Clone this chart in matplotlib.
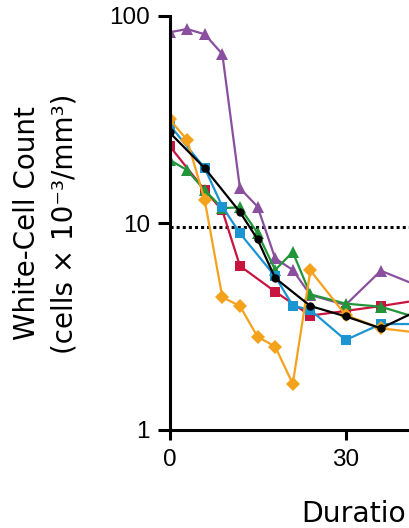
"""
White-cell count over time, one line per patient (log scale).
"""

import matplotlib

matplotlib.use("Agg")

import matplotlib.pyplot as plt
from matplotlib.ticker import FixedLocator, NullLocator

plt.rcParams["font.family"] = ["Liberation Sans", "DejaVu Sans"]

# ---------- Data ----------
purple_x = [0, 3, 6, 9, 12, 15, 18, 21, 24, 30, 36, 42]
purple_y = [83.4, 86.5, 81.6, 65.5, 14.7, 12.0, 6.75, 5.93, 4.49, 4.02, 5.88, 5.02]

red_x = [0, 6, 9, 12, 18, 24, 30, 36, 42]
red_y = [23.6, 14.4, 11.5, 6.20, 4.66, 3.57, 3.76, 3.97, 4.22]

green_x = [0, 3, 6, 9, 12, 15, 18, 21, 24, 30, 36, 42]
green_y = [20.2, 18.0, 14.4, 11.8, 11.9, 8.95, 5.93, 7.24, 4.52, 4.08, 3.94, 3.50]

blue_x = [0, 6, 9, 12, 18, 21, 24, 30, 36, 42]
blue_y = [29.8, 18.4, 12.0, 8.92, 5.52, 3.99, 3.80, 2.72, 3.25, 3.25]

orange_x = [0, 3, 6, 9, 12, 15, 18, 21, 24, 30, 36, 42]
orange_y = [31.7, 25.2, 12.9, 4.38, 3.97, 2.82, 2.53, 1.67, 5.90, 3.59, 3.10, 2.96]

black_x = [0, 6, 12, 15, 18, 24, 30, 36, 42]
black_y = [27.4, 18.4, 11.3, 8.34, 5.42, 3.97, 3.54, 3.10, 3.74]

threshold = 9.6
y_ticks = [1, 10, 100]
x_ticks = [0, 30]

series = [
    (purple_x, purple_y, "#8a4f9e", "^", 8.5),
    (red_x, red_y, "#c8143f", "s", 7.5),
    (green_x, green_y, "#22953a", "^", 8.5),
    (blue_x, blue_y, "#1b95d2", "s", 7.5),
    (orange_x, orange_y, "#f4a11c", "D", 7.5),
    (black_x, black_y, "#000000", "o", 6),
]

# ---------- Figure ----------
W, H = 409, 528
fig = plt.figure(figsize=(W / 100, H / 100), dpi=100)
ax = fig.add_axes([169.5 / W, 1 - 430 / H, (W - 169.5) / W, (430 - 16) / H])

ax.axhline(threshold, color="black", ls=(0, (1, 1)), lw=2.2, zorder=1)

for xs, ys, color, marker, ms in series:
    ax.plot(xs, ys, color=color, lw=1.6, marker=marker, ms=ms,
            markeredgewidth=0, zorder=2)

ax.set_yscale("log")
ax.set_ylim(1, 100)
ax.set_xlim(0, (W - 169.5) / 5.87)
ax.yaxis.set_major_locator(FixedLocator(y_ticks))
ax.yaxis.set_minor_locator(NullLocator())
ax.set_yticklabels([str(t) for t in y_ticks])
ax.set_xticks(x_ticks)
ax.set_xticklabels([str(t) for t in x_ticks])

for side in ("top", "right"):
    ax.spines[side].set_visible(False)
for side in ("left", "bottom"):
    ax.spines[side].set_linewidth(2.2)
    ax.spines[side].set_capstyle("projecting")

ax.tick_params(axis="y", length=8.5, width=2.2, labelsize=17.5, pad=5.5)
ax.tick_params(axis="x", length=7.5, width=2.2, labelsize=17.5, pad=6)

# ---------- Labels ----------
label_font = ["DejaVu Sans"]
fig.text(27 / W, 1 - 223 / H, "White-Cell Count", rotation=90,
         ha="center", va="center", fontsize=20, family=label_font)
fig.text(65 / W, 1 - 224 / H, "(cells \u00d7 10\u207b\u00b3/mm\u00b3)", rotation=90,
         ha="center", va="center", fontsize=20, family=label_font)
fig.text(301 / W, 1 - 522 / H, "Duratio", ha="left", va="baseline",
         fontsize=20.3, family=label_font)

fig.savefig("out.png", dpi=100)
